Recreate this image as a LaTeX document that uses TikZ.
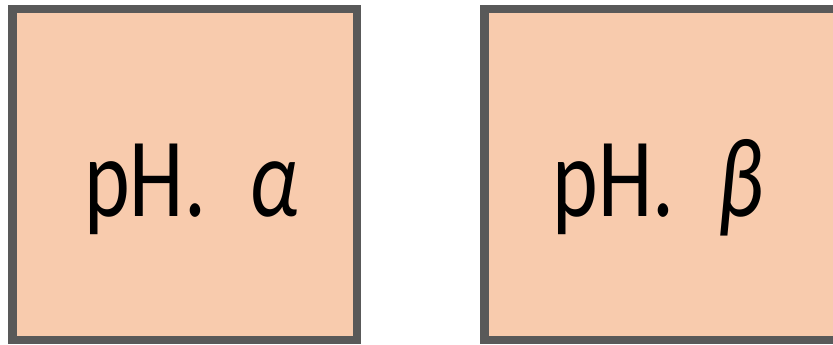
\documentclass[tikz,border=0pt]{standalone}
\usepackage{fontspec}
\setsansfont{Carlito}
\definecolor{boxfill}{HTML}{F8CBAD}
\definecolor{boxline}{HTML}{595959}
\tikzset{
  phbox/.style={draw=boxline, fill=boxfill, line width=8.5pt},
  phlabel/.style={inner sep=0pt, anchor=base, xscale=0.77, font=\sffamily\fontsize{113}{113}\selectfont}
}
\begin{document}
\begin{tikzpicture}[x=1pt, y=-1pt]
\useasboundingbox (0,0) rectangle (833,345);
\begin{scope}
\clip (0,0) rectangle (833,345);
\draw[phbox] (12.5,9) rectangle (357,340);
\draw[phbox] (484.7,9) rectangle (900,340);
\end{scope}
\node[phlabel] (alpha) at (191.5,216.5) {pH.\hspace{0.5em}{\itshape α}};
\node[phlabel] (beta) at (658,216.5) {pH.\hspace{0.5em}{\itshape β}};
\end{tikzpicture}
\end{document}
